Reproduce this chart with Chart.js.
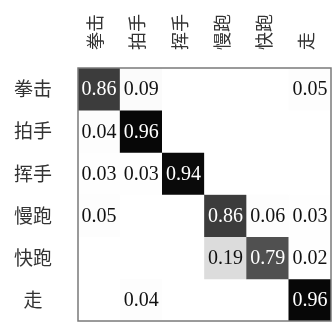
<!DOCTYPE html>
<html>
<head>
<meta charset="utf-8">
<script src="https://cdn.jsdelivr.net/npm/chart.js@4"></script>
<style>
  html, body { margin: 0; padding: 0; background: #fff; }
  canvas { display: block; }
</style>
</head>
<body>
<canvas id="cm" width="334" height="324"></canvas>
<script>
// 类别 (列 = 预测, 行 = 真实)
const categories = ['拳击', '拍手', '挥手', '慢跑', '快跑', '走'];

// 每一行的识别率
const boxing   = [0.86, 0.09, 0,    0,    0,    0.05];
const clapping = [0.04, 0.96, 0,    0,    0,    0];
const waving   = [0.03, 0.03, 0.94, 0,    0,    0];
const jogging  = [0.05, 0,    0,    0.86, 0.06, 0.03];
const running  = [0,    0,    0,    0.19, 0.79, 0.02];
const walking  = [0,    0.04, 0,    0,    0,    0.96];

const rows = [boxing, clapping, waving, jogging, running, walking];

// 灰度色带 [数值, 灰度]
const grayStops = [[0, 255], [0.1, 251], [0.19, 220], [0.79, 80], [0.86, 60], [0.94, 10], [1, 0]];

function cellColor(v) {
    let g = 0;
    for (let i = 1; i < grayStops.length; i++) {
        const [v0, g0] = grayStops[i - 1];
        const [v1, g1] = grayStops[i];
        if (v <= v1) {
            g = Math.round(g0 + (g1 - g0) * (v - v0) / (v1 - v0));
            break;
        }
    }
    return `rgb(${g},${g},${g})`;
}

// 在每个格子中写数值, 再画外框
const cellText = {
    id: 'cellText',
    afterDatasetsDraw(chart) {
        const ctx = chart.ctx;
        ctx.save();
        ctx.font = '20px "Liberation Serif", "Times New Roman", serif';
        ctx.textAlign = 'center';
        ctx.textBaseline = 'middle';
        rows.forEach((row, r) => {
            const meta = chart.getDatasetMeta(r);
            row.forEach((v, c) => {
                if (!v) return;
                const p = meta.data[c].getCenterPoint();
                ctx.fillStyle = v > 0.5 ? '#fff' : '#111';
                ctx.fillText(v.toFixed(2), p.x, p.y + 1);
            });
        });
        ctx.restore();
    },
    afterDraw(chart) {
        const a = chart.chartArea;
        const ctx = chart.ctx;
        ctx.save();
        ctx.strokeStyle = '#7a7a7a';
        ctx.lineWidth = 1.5;
        ctx.strokeRect(a.left, a.top, a.right - a.left, a.bottom - a.top);
        ctx.restore();
    }
};

new Chart(document.getElementById('cm'), {
    type: 'bar',
    data: {
        labels: categories,
        datasets: rows.map((row, r) => ({
            label: categories[r],
            data: row.map(() => [r, r + 1]),
            backgroundColor: row.map(cellColor),
            borderWidth: 0,
            barPercentage: 1,
            categoryPercentage: 1,
            grouped: false,
        })),
    },
    options: {
        responsive: false,
        animation: false,
        layout: { padding: { right: 3, bottom: 3 } },
        plugins: {
            legend: { display: false },
            tooltip: { enabled: false },
        },
        scales: {
            x: {
                type: 'category',
                position: 'top',
                grid: { display: false },
                border: { display: false },
                ticks: {
                    minRotation: 90,
                    maxRotation: 90,
                    padding: 10,
                    labelOffset: 18,
                    color: '#333',
                    font: { family: '"Noto Sans CJK SC"', size: 18 },
                },
                afterFit(axis) { axis.height = 68; },
            },
            y: {
                type: 'linear',
                min: 0,
                max: 6,
                reverse: true,
                grid: { display: false },
                border: { display: false },
                afterBuildTicks(axis) {
                    axis.ticks = categories.map((_, i) => ({ value: i + 0.5 }));
                },
                ticks: {
                    crossAlign: 'center',
                    padding: 18,
                    color: '#333',
                    font: { family: '"Noto Sans CJK SC"', size: 19 },
                    callback: (v) => categories[Math.floor(v)],
                },
                afterFit(axis) {
                    axis.width = 78;
                    axis.paddingTop = 0;
                    axis.paddingBottom = 0;
                },
            },
        },
    },
    plugins: [cellText],
});
</script>
</body>
</html>
